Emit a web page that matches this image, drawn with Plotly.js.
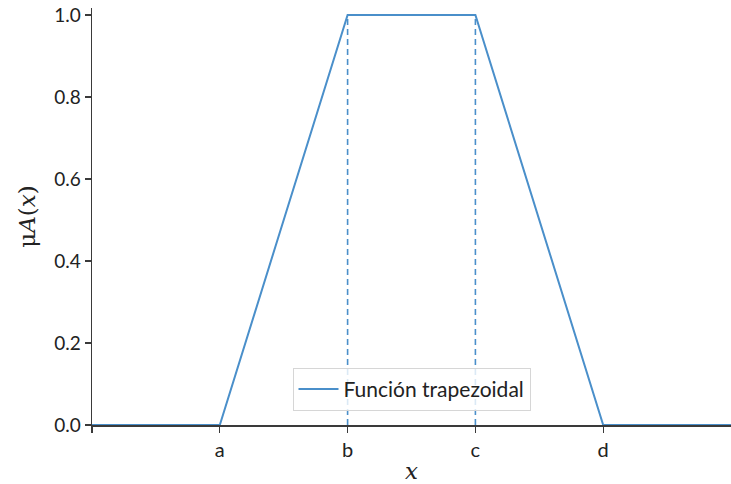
<!DOCTYPE html>
<html>
<head>
<meta charset="utf-8">
<script src="https://cdn.plot.ly/plotly-3.0.1.min.js"></script>
<style>
  html, body { margin: 0; padding: 0; background: #fff; }
  #chart { width: 731px; height: 484px; }
</style>
</head>
<body>
<div id="chart"></div>
<script>
// Trapezoidal membership function: breakpoints and membership degrees
const xPoints = [0, 1, 2, 3, 4, 5];
const muValues = [0, 0, 1, 1, 0, 0];

// Plateau edges marked with dashed guides (x position, height)
const guideX = [2, 3];
const guideTop = [1, 1];

// Axis ticks
const xTickVals = [0, 1, 2, 3, 4];
const xTickText = ['', 'a', 'b', 'c', 'd'];
const yTickVals = [0, 0.2, 0.4, 0.6, 0.8, 1.0];
const yTickText = ['0.0', '0.2', '0.4', '0.6', '0.8', '1.0'];

const blue = '#4a8fca';
const axisColor = '#3a3a3a';
const font = 'Lato, "Open Sans", sans-serif';
const serif = '"DejaVu Serif", "Liberation Serif", serif';

const traces = [
  {
    x: xPoints,
    y: muValues,
    type: 'scatter',
    mode: 'lines',
    name: 'Función trapezoidal',
    line: { color: blue, width: 2 },
    cliponaxis: false
  }
];

guideX.forEach((gx, i) => {
  traces.push({
    x: [gx, gx],
    y: [0, guideTop[i]],
    type: 'scatter',
    mode: 'lines',
    showlegend: false,
    hoverinfo: 'skip',
    line: { color: blue, width: 1.6, dash: '6px,4px' }
  });
});

const layout = {
  width: 731,
  height: 484,
  margin: { l: 92, r: 0, t: 8, b: 59 },
  paper_bgcolor: '#ffffff',
  plot_bgcolor: '#ffffff',
  font: { family: font, size: 19, color: '#222' },
  showlegend: true,
  legend: {
    x: 0.5, xanchor: 'center',
    y: 0.034, yanchor: 'bottom',
    bgcolor: 'rgba(255,255,255,0.8)',
    bordercolor: '#d6d6d6',
    borderwidth: 1,
    font: { family: font, size: 21, color: '#222' },
    itemwidth: 40
  },
  xaxis: {
    range: [0, 5],
    tickvals: xTickVals,
    ticktext: xTickText,
    ticks: 'outside',
    ticklen: 6,
    tickwidth: 1.2,
    tickcolor: axisColor,
    showline: true,
    linecolor: axisColor,
    linewidth: 1.5,
    showgrid: false,
    zeroline: false,
    tickfont: { family: font, size: 20, color: '#222' },
    title: {
      text: '<i>x</i>',
      font: { family: serif, size: 23, color: '#222' },
      standoff: 4
    }
  },
  yaxis: {
    range: [0, 1.017],
    tickvals: yTickVals,
    ticktext: yTickText,
    ticks: 'outside',
    ticklen: 6,
    tickwidth: 1.2,
    tickcolor: axisColor,
    showline: true,
    linecolor: axisColor,
    linewidth: 1.5,
    showgrid: false,
    zeroline: false,
    tickfont: { family: font, size: 19, color: '#222' },
    title: {
      text: 'μ<i>A</i>(<i>x</i>)',
      font: { family: serif, size: 23, color: '#222' },
      standoff: 12
    }
  }
};

Plotly.newPlot('chart', traces, layout, { displayModeBar: false, staticPlot: true });
</script>
</body>
</html>
